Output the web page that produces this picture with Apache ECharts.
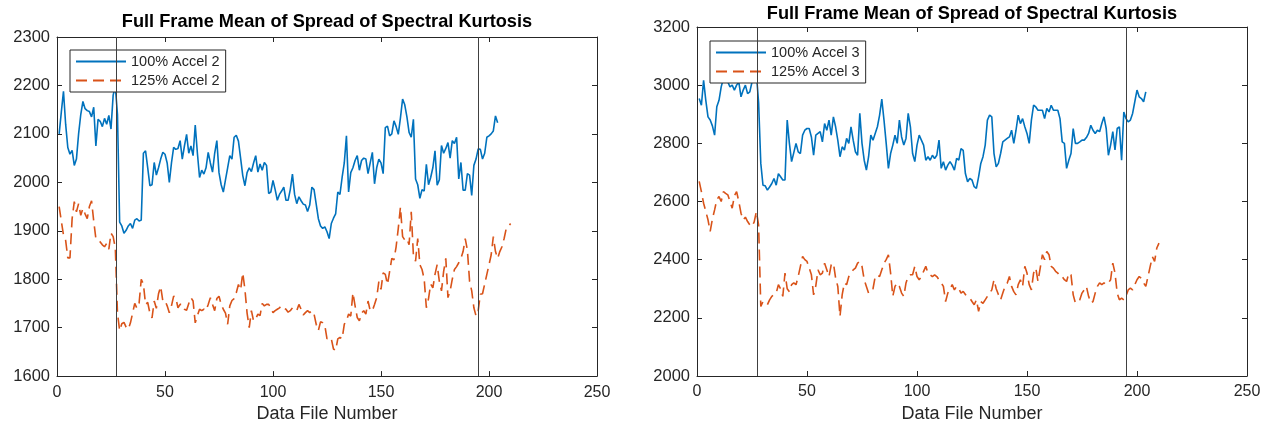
<!DOCTYPE html>
<html><head><meta charset="utf-8">
<script src="https://cdn.jsdelivr.net/npm/echarts@6/dist/echarts.min.js"></script>
<style>html,body{margin:0;padding:0;background:#fff}#c{width:1272px;height:428px}</style>
</head><body><div id="c"></div><script>
const titleText = 'Full Frame Mean of Spread of Spectral Kurtosis';
const xLabel = 'Data File Number';
const xRange = [0, 250];
const xStep = 50;
const yRangeLeft = [1600, 2300];
const yStepLeft = 100;
const yRangeRight = [2000, 3200];
const yStepRight = 200;
const vLines = [27.5, 195];
const names2 = ['100% Accel 2', '125% Accel 2'];
const names3 = ['100% Accel 3', '125% Accel 3'];

const blue2 = [2100,2145,2188,2120,2072,2058,2066,2035,2048,2100,
2140,2167,2152,2148,2146,2135,2155,2075,2130,2126,
2115,2132,2120,2138,2110,2180,2198,2140,1918,1910,
1895,1901,1910,1915,1905,1922,1925,1920,1922,2060,
2065,2030,1993,1995,2041,2015,2030,2048,2062,2058,
2040,2000,2040,2072,2068,2070,2086,2048,2075,2099,
2060,2075,2055,2118,2060,2010,2025,2017,2030,2062,
2040,2021,2060,2086,2020,1995,1980,2005,2030,2055,
2048,2093,2097,2085,2050,2014,1993,2020,2030,2022,
2040,2055,2021,2038,2025,2041,2035,1977,1980,2004,
1985,1963,1975,1982,1990,1963,1963,1985,2017,1975,
1956,1970,1962,1955,1953,1940,1953,1990,1985,1955,
1925,1910,1905,1908,1898,1884,1915,1926,1935,1980,
1975,2010,2040,2096,1980,2020,2030,2045,2055,2025,
2045,2050,2048,2018,2040,2062,1997,2030,2048,2040,
2018,2113,2116,2096,2100,2127,2115,2099,2133,2172,
2160,2135,2103,2093,2130,2007,1995,1967,1985,1982,
2037,1995,2010,2030,2065,1994,2005,2076,2060,2070,
2082,2050,2086,2080,2093,2007,2041,1984,1984,2018,
2015,1973,2035,2048,2069,2068,2048,2060,2093,2096,
2100,2106,2137,2123];

const orange2 = [1950,1920,1891,1880,1844,1844,1925,1960,1939,1956,
1932,1946,1935,1925,1950,1962,1920,1884,1880,1877,
1871,1867,1874,1862,1895,1888,1864,1730,1694,1708,
1711,1701,1697,1710,1730,1750,1740,1750,1800,1790,
1748,1752,1730,1720,1755,1740,1770,1785,1755,1756,
1745,1731,1745,1765,1762,1741,1748,1748,1738,1736,
1750,1762,1755,1710,1725,1738,1735,1738,1735,1748,
1762,1748,1735,1760,1765,1748,1738,1730,1707,1745,
1756,1760,1772,1789,1778,1813,1779,1730,1700,1735,
1714,1718,1728,1725,1750,1745,1748,1748,1741,1731,
1735,1738,1741,1745,1740,1738,1732,1735,1741,1738,
1735,1748,1738,1726,1731,1735,1731,1735,1728,1707,
1694,1712,1710,1704,1677,1680,1677,1656,1653,1677,
1680,1677,1707,1714,1728,1724,1772,1745,1721,1714,
1730,1735,1728,1755,1735,1735,1748,1762,1795,1779,
1813,1810,1789,1816,1843,1840,1867,1905,1949,1888,
1881,1884,1871,1939,1850,1837,1884,1830,1820,1800,
1741,1760,1790,1782,1810,1830,1796,1776,1816,1843,
1762,1776,1800,1820,1826,1834,1843,1857,1884,1860,
1796,1776,1741,1724,1735,1769,1770,1790,1810,1830,
1850,1888,1857,1843,1857,1867,1884,1905,1908,1915];

const blue3 = [2954,2931,3017,2948,2891,2880,2860,2828,2926,2948,
2994,3023,3030,3011,2994,3000,2983,3000,3011,2960,
2983,3000,2971,2977,3011,3030,3040,2940,2731,2656,
2654,2639,2650,2662,2679,2656,2696,2685,2674,2674,
2880,2800,2737,2768,2800,2771,2765,2828,2845,2851,
2851,2822,2759,2828,2834,2840,2805,2868,2845,2880,
2828,2891,2857,2811,2754,2788,2777,2817,2800,2857,
2811,2771,2759,2903,2800,2742,2708,2754,2828,2811,
2834,2857,2897,2952,2880,2800,2714,2765,2794,2828,
2800,2880,2822,2794,2817,2903,2857,2765,2737,2794,
2828,2811,2794,2742,2754,2742,2759,2748,2759,2811,
2714,2737,2708,2725,2737,2725,2708,2748,2742,2782,
2776,2696,2668,2679,2674,2651,2645,2685,2731,2754,
2794,2880,2897,2891,2765,2719,2731,2765,2805,2811,
2817,2822,2845,2800,2845,2897,2868,2885,2857,2834,
2800,2880,2931,2925,2914,2914,2914,2885,2920,2908,
2931,2914,2914,2914,2885,2805,2800,2714,2742,2765,
2851,2800,2800,2805,2811,2811,2820,2834,2862,2845,
2834,2845,2840,2868,2891,2851,2759,2794,2840,2777,
2851,2857,2742,2908,2885,2874,2880,2903,2943,2983,
2960,2954,2943,2977];

const orange3 = [2669,2634,2594,2566,2537,2497,2540,2571,2606,2617,
2600,2634,2628,2623,2600,2577,2620,2634,2600,2560,
2537,2546,2531,2520,2514,2530,2566,2520,2239,2256,
2250,2245,2262,2274,2280,2285,2314,2300,2274,2354,
2300,2290,2314,2320,2314,2342,2377,2411,2400,2394,
2371,2348,2279,2310,2365,2348,2354,2388,2365,2342,
2382,2388,2337,2308,2205,2280,2320,2314,2342,2354,
2365,2371,2388,2394,2377,2331,2308,2285,2296,2300,
2342,2348,2342,2365,2388,2400,2417,2354,2274,2308,
2320,2308,2285,2274,2320,2342,2348,2348,2377,2342,
2331,2342,2360,2377,2354,2348,2342,2348,2342,2331,
2320,2308,2256,2285,2300,2314,2296,2308,2300,2285,
2291,2280,2274,2268,2256,2245,2262,2222,2256,2250,
2262,2274,2285,2296,2331,2300,2280,2262,2285,2308,
2319,2342,2308,2290,2279,2314,2331,2308,2377,2354,
2314,2296,2354,2371,2325,2371,2417,2400,2428,2417,
2377,2371,2360,2354,2342,2342,2331,2325,2354,2348,
2279,2251,2256,2262,2285,2296,2308,2274,2251,2256,
2285,2308,2320,2314,2320,2314,2320,2331,2388,2354,
2285,2262,2268,2262,2274,2296,2302,2296,2314,2331,
2342,2336,2320,2308,2342,2377,2410,2394,2440,2457];

const FONT = '"Liberation Sans", Arial, Helvetica, sans-serif';
const AX = '#262626';
const BLUE = '#0072BD';
const ORANGE = '#D95319';
const pairs = arr => arr.map((v, i) => [i + 1, v]);
const plain = v => String(v);

function xAxes(gridIndex) {
  const common = {type: 'value', gridIndex, min: xRange[0], max: xRange[1], interval: xStep,
    splitLine: {show: false},
    axisLine: {show: true, onZero: false, lineStyle: {color: AX, width: 1}},
    axisTick: {show: true, inside: true, length: 5, lineStyle: {color: AX}}};
  return [
    Object.assign({}, common, {position: 'bottom',
      axisLabel: {show: true, color: AX, fontSize: 16, fontFamily: FONT, margin: 8, formatter: plain},
      name: xLabel, nameLocation: 'middle', nameGap: 27,
      nameTextStyle: {color: AX, fontSize: 18, fontFamily: FONT}}),
    Object.assign({}, common, {position: 'top', axisLabel: {show: false}})
  ];
}
function yAxes(gridIndex, range, step) {
  const common = {type: 'value', gridIndex, min: range[0], max: range[1], interval: step,
    splitLine: {show: false},
    axisLine: {show: true, onZero: false, lineStyle: {color: AX, width: 1}},
    axisTick: {show: true, inside: true, length: 5, lineStyle: {color: AX}}};
  return [
    Object.assign({}, common, {position: 'left',
      axisLabel: {show: true, color: AX, fontSize: 16.5, fontFamily: FONT, margin: 7, formatter: plain}}),
    Object.assign({}, common, {position: 'right', axisLabel: {show: false}})
  ];
}
function vLineMark() {
  return {silent: true, symbol: ['none', 'none'], animation: false,
    label: {show: false}, emphasis: {disabled: true},
    lineStyle: {color: '#404040', width: 1, type: 'solid'},
    data: vLines.map(v => ({xAxis: v}))};
}
function legendOf(names, left, top) {
  return {data: names, orient: 'vertical', left, top,
    padding: [4, 6, 4, 5], itemGap: 4, itemWidth: 50, itemHeight: 14,
    backgroundColor: '#fff', borderColor: AX, borderWidth: 1, borderRadius: 0,
    itemStyle: {opacity: 0, borderWidth: 0},
    textStyle: {color: AX, fontSize: 14.5, fontFamily: FONT}, selectedMode: false};
}
function lineSeries(name, data, color, dashed, xi, yi, mark) {
  const s = {name, type: 'line', data: pairs(data), xAxisIndex: xi, yAxisIndex: yi,
    symbol: 'none', showSymbol: false, smooth: false, animation: false,
    lineStyle: {color, width: 1.6, type: dashed ? [11, 6] : 'solid'},
    itemStyle: {color}, emphasis: {disabled: true}, z: 3};
  if (mark) s.markLine = vLineMark();
  return s;
}

const chart = echarts.init(document.getElementById('c'), null, {renderer: 'canvas'});
chart.setOption({
  animation: false,
  backgroundColor: '#fff',
  title: [
    {text: titleText, left: 327, top: 13, textAlign: 'center', padding: 0,
     textStyle: {color: '#000', fontSize: 18.2, fontWeight: 'bold', fontFamily: FONT}},
    {text: titleText, left: 972, top: 5, textAlign: 'center', padding: 0,
     textStyle: {color: '#000', fontSize: 18.2, fontWeight: 'bold', fontFamily: FONT}}
  ],
  legend: [legendOf(names2, 70, 50), legendOf(names3, 710, 41)],
  grid: [
    {left: 57, top: 37, width: 540, height: 342, containLabel: false},
    {left: 697, top: 27, width: 550, height: 349, containLabel: false}
  ],
  xAxis: [...xAxes(0), ...xAxes(1)],
  yAxis: [...yAxes(0, yRangeLeft, yStepLeft), ...yAxes(1, yRangeRight, yStepRight)],
  series: [
    lineSeries(names2[0], blue2, BLUE, false, 0, 0, true),
    lineSeries(names2[1], orange2, ORANGE, true, 0, 0, false),
    lineSeries(names3[0], blue3, BLUE, false, 2, 2, true),
    lineSeries(names3[1], orange3, ORANGE, true, 2, 2, false)
  ]
});
</script></body></html>
